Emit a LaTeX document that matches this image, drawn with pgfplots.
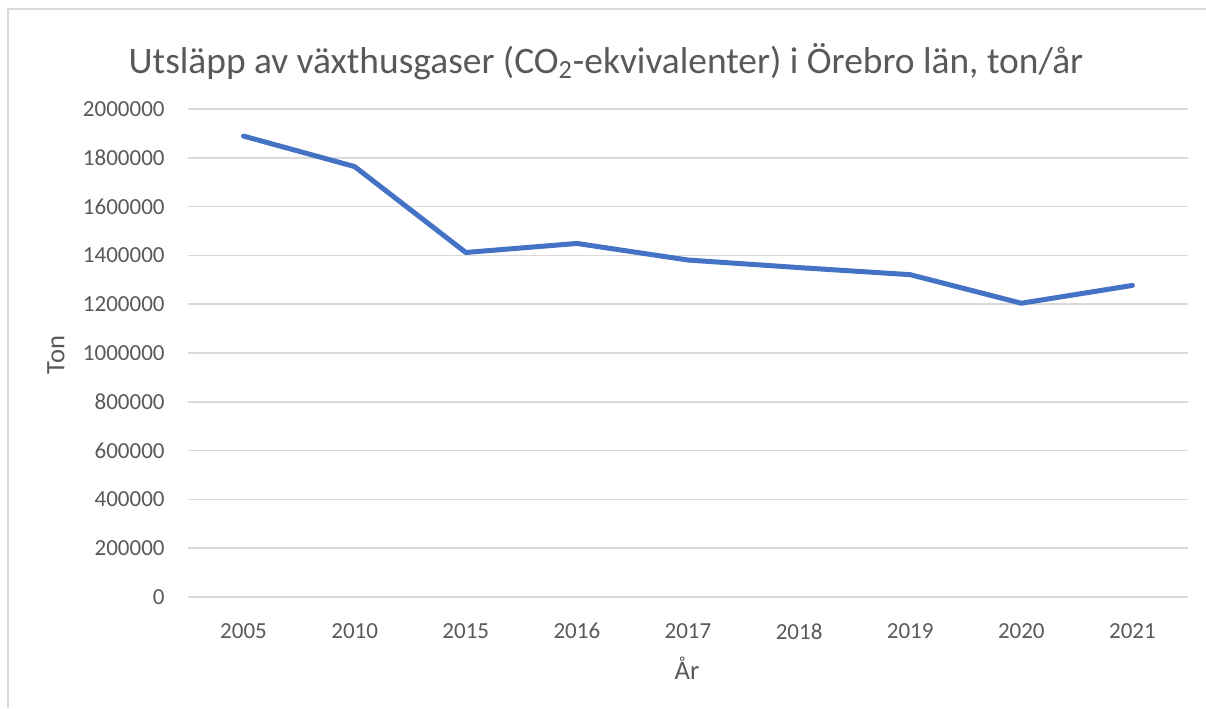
\documentclass[border=0pt]{standalone}
\usepackage{pgfplots}
\pgfplotsset{compat=1.18}
\usepackage{fontspec}
\setmainfont{Carlito}
\definecolor{txt}{HTML}{595959}
\definecolor{gridc}{HTML}{D9D9D9}
\definecolor{linec}{HTML}{4472C4}
\definecolor{borderc}{HTML}{D9D9D9}
\begin{document}
\begin{tikzpicture}
\path[use as bounding box] (0,0) rectangle (603pt,354pt);
\draw[borderc,line width=1pt] (3.75pt,0pt) -- (3.75pt,349.5pt) -- (603pt,349.5pt);
\node[txt,font=\fontsize{18.7}{21}\selectfont] at (303pt,323pt) {Utsläpp av växthusgaser (CO\textsubscript{2}-ekvivalenter) i Örebro län, ton/år};
\node[txt,font=\fontsize{13.3}{15}\selectfont] at (343.5pt,20pt) {År};
\node[txt,font=\fontsize{13.3}{15}\selectfont,rotate=90] at (28pt,176.5pt) {Ton};
\begin{axis}[
  at={(94pt,55.5pt)}, anchor=south west,
  scale only axis, width=500pt, height=244pt,
  xmin=-0.5, xmax=8.5, ymin=0, ymax=2000000,
  xtick={0,...,8},
  xticklabels={2005,2010,2015,2016,2017,2018,2019,2020,2021},
  ytick={0,200000,...,2000000},
  scaled y ticks=false,
  /pgf/number format/.cd, fixed, precision=0, 1000 sep={}, assume math mode=true,
  /pgfplots/.cd,
  axis line style={draw=none},
  major tick length=0pt,
  xmajorgrids=false,
  ymajorgrids=true, grid style={draw=gridc, line width=0.75pt},
  tick label style={txt, font=\fontsize{11.5}{13}\selectfont},
  yticklabel style={anchor=east, inner sep=0pt, xshift=-11.5pt},
  xticklabel style={anchor=north, inner sep=0pt, yshift=-13pt},
  clip=false,
]
\addplot[linec, line width=2.5pt, line join=round, line cap=round] coordinates {
(0,1889000) (1,1764000) (2,1412000) (3,1449000) (4,1381000) (5,1350000) (6,1321000) (7,1204000) (8,1277000)
};
\end{axis}
\end{tikzpicture}
\end{document}
